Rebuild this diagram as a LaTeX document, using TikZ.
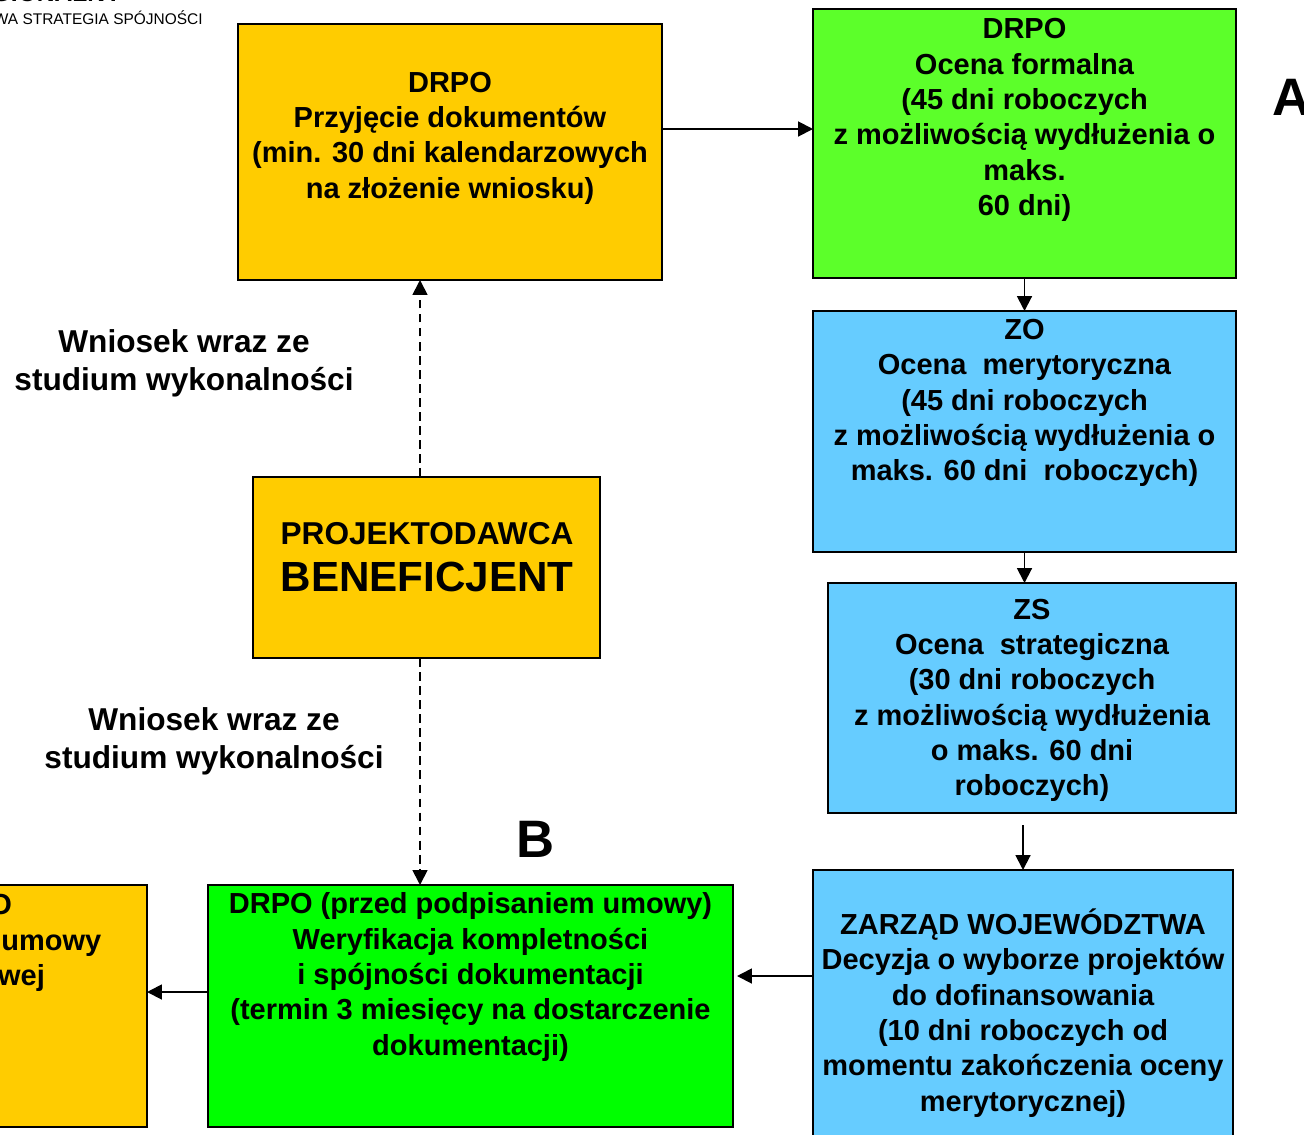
\documentclass[tikz,border=0pt]{standalone}
\usepackage{fontspec}
\setmainfont{Liberation Sans}
\usetikzlibrary{positioning,arrows.meta}

\definecolor{drpoyellow}{HTML}{FFCC00}
\definecolor{formalgreen}{HTML}{5CFF2A}
\definecolor{ocenablue}{HTML}{66CCFF}
\definecolor{verifgreen}{HTML}{00FF00}
\newcommand{\pxl}{0.02cm}

\begin{document}
\begin{tikzpicture}[
  x=0.02cm, y=-0.02cm,
  box/.style={rectangle, draw, line width=1.2pt, inner sep=0pt, outer sep=0pt},
  txt/.style={align=center, inner sep=0pt, font=\fontsize{16.5}{20.1}\selectfont\bfseries},
  lbl/.style={align=center, inner sep=0pt, font=\fontsize{18}{21.6}\selectfont\bfseries},
  letter/.style={inner sep=0pt, font=\fontsize{30}{36}\selectfont\bfseries},
  arrow/.style={-{Triangle[length=8.5pt,width=8.5pt]}, line width=1.1pt},
  dasharrow/.style={arrow, line width=1pt, dash pattern=on 5pt off 3pt}
]
  \useasboundingbox (0,0) rectangle (1304,1135);
  \clip (0,0) rectangle (1304,1135);

  % header of the slide (cut off)
  \node[anchor=base east, inner sep=0pt, font=\fontsize{14}{16}\selectfont\bfseries] (prog) at (122,2) {PROGRAM REGIONALNY};
  \node[anchor=base east, inner sep=0pt, font=\fontsize{8.8}{10}\selectfont] (nss) at (203,25) {NARODOWA STRATEGIA SPÓJNOŚCI};

  % boxes
  \node[box, fill=drpoyellow, minimum width=424*\pxl, minimum height=256*\pxl] (przyjecie) at (450,152) {};
  \node[box, fill=formalgreen, minimum width=423*\pxl, minimum height=269*\pxl] (formalna) at (1024.5,143.5) {};
  \node[box, fill=ocenablue, minimum width=423*\pxl, minimum height=241*\pxl] (merytoryczna) at (1024.5,431.5) {};
  \node[box, fill=ocenablue, minimum width=408*\pxl, minimum height=230*\pxl] (strategiczna) at (1032,698) {};
  \node[box, fill=ocenablue, minimum width=420*\pxl, minimum height=280*\pxl] (zarzad) at (1023,1010) {};
  \node[box, fill=verifgreen, minimum width=525*\pxl, minimum height=242*\pxl] (weryfikacja) at (470.5,1006) {};
  \node[box, fill=drpoyellow, minimum width=397*\pxl, minimum height=242*\pxl] (umowa) at (-51.5,1006) {};
  \node[box, fill=drpoyellow, minimum width=347*\pxl, minimum height=181*\pxl] (beneficjent) at (426.5,567.5) {};

  % texts
  \node[txt] (przyjecieT) at (450,138) {DRPO\\Przyjęcie dokumentów\\(min. 30 dni kalendarzowych\\na złożenie wniosku)};
  \node[txt] (formalnaT) at (1024.5,120) {DRPO\\Ocena formalna\\(45 dni roboczych\\z możliwością wydłużenia o\\maks.\\60 dni)};
  \node[txt] (merytorycznaT) at (1024.5,403) {ZO\\Ocena\ \ merytoryczna\\(45 dni roboczych\\z możliwością wydłużenia o\\maks. 60 dni\ \ roboczych)};
  \node[txt] (strategicznaT) at (1032,700.5) {ZS\\Ocena\ \ strategiczna\\(30 dni roboczych\\z możliwością wydłużenia\\o maks. 60 dni\\roboczych)};
  \node[txt] (zarzadT) at (1023,1013) {ZARZĄD WOJEWÓDZTWA\\Decyzja o wyborze projektów\\do dofinansowania\\(10 dni roboczych od\\momentu zakończenia oceny\\merytorycznej)};
  \node[txt] (weryfikacjaT) at (470.5,977) {DRPO (przed podpisaniem umowy)\\Weryfikacja kompletności\\i spójności dokumentacji\\(termin 3 miesięcy na dostarczenie\\dokumentacji)};
  \node[txt] (umowaT) at (-30,943) {DRPO\\Podpisanie umowy\\finansowej};
  \node[align=center, inner sep=0pt, font=\bfseries] (beneficjentT) at (427,557)
    {{\fontsize{18}{21.6}\selectfont PROJEKTODAWCA}\\[9pt]{\fontsize{24}{28}\selectfont BENEFICJENT}};

  % labels
  \node[lbl] (wniosekA) at (184,363) {Wniosek wraz ze\\studium wykonalności};
  \node[lbl] (wniosekB) at (214,741) {Wniosek wraz ze\\studium wykonalności};
  \node[letter, anchor=base west] (etapA) at (1272,116) {A};
  \node[letter, anchor=base west] (etapB) at (516,857) {B};

  % connectors
  \draw[arrow] ([yshift=0.46cm]przyjecie.east) -- ([yshift=0.46cm]przyjecie.east -| formalna.west);
  \draw[arrow] (formalna.south) -- (merytoryczna.north);
  \draw[arrow] (merytoryczna.south) -- (merytoryczna.south |- strategiczna.north);
  \draw[arrow] ([yshift=-0.24cm]strategiczna.south -| zarzad.north) -- (zarzad.north);
  \draw[arrow, shorten >=0.08cm] ([yshift=0.68cm]zarzad.west) -- ([yshift=0.68cm]zarzad.west -| weryfikacja.east);
  \draw[arrow] ([yshift=0.28cm]weryfikacja.west) -- ([yshift=0.28cm]weryfikacja.west -| umowa.east);
  \draw[dasharrow] ([xshift=-0.13cm]beneficjent.north) -- ([xshift=-0.13cm]beneficjent.north |- przyjecie.south);
  \draw[dasharrow] ([xshift=-0.13cm]beneficjent.south) -- ([xshift=-0.13cm]beneficjent.south |- weryfikacja.north);
\end{tikzpicture}
\end{document}
